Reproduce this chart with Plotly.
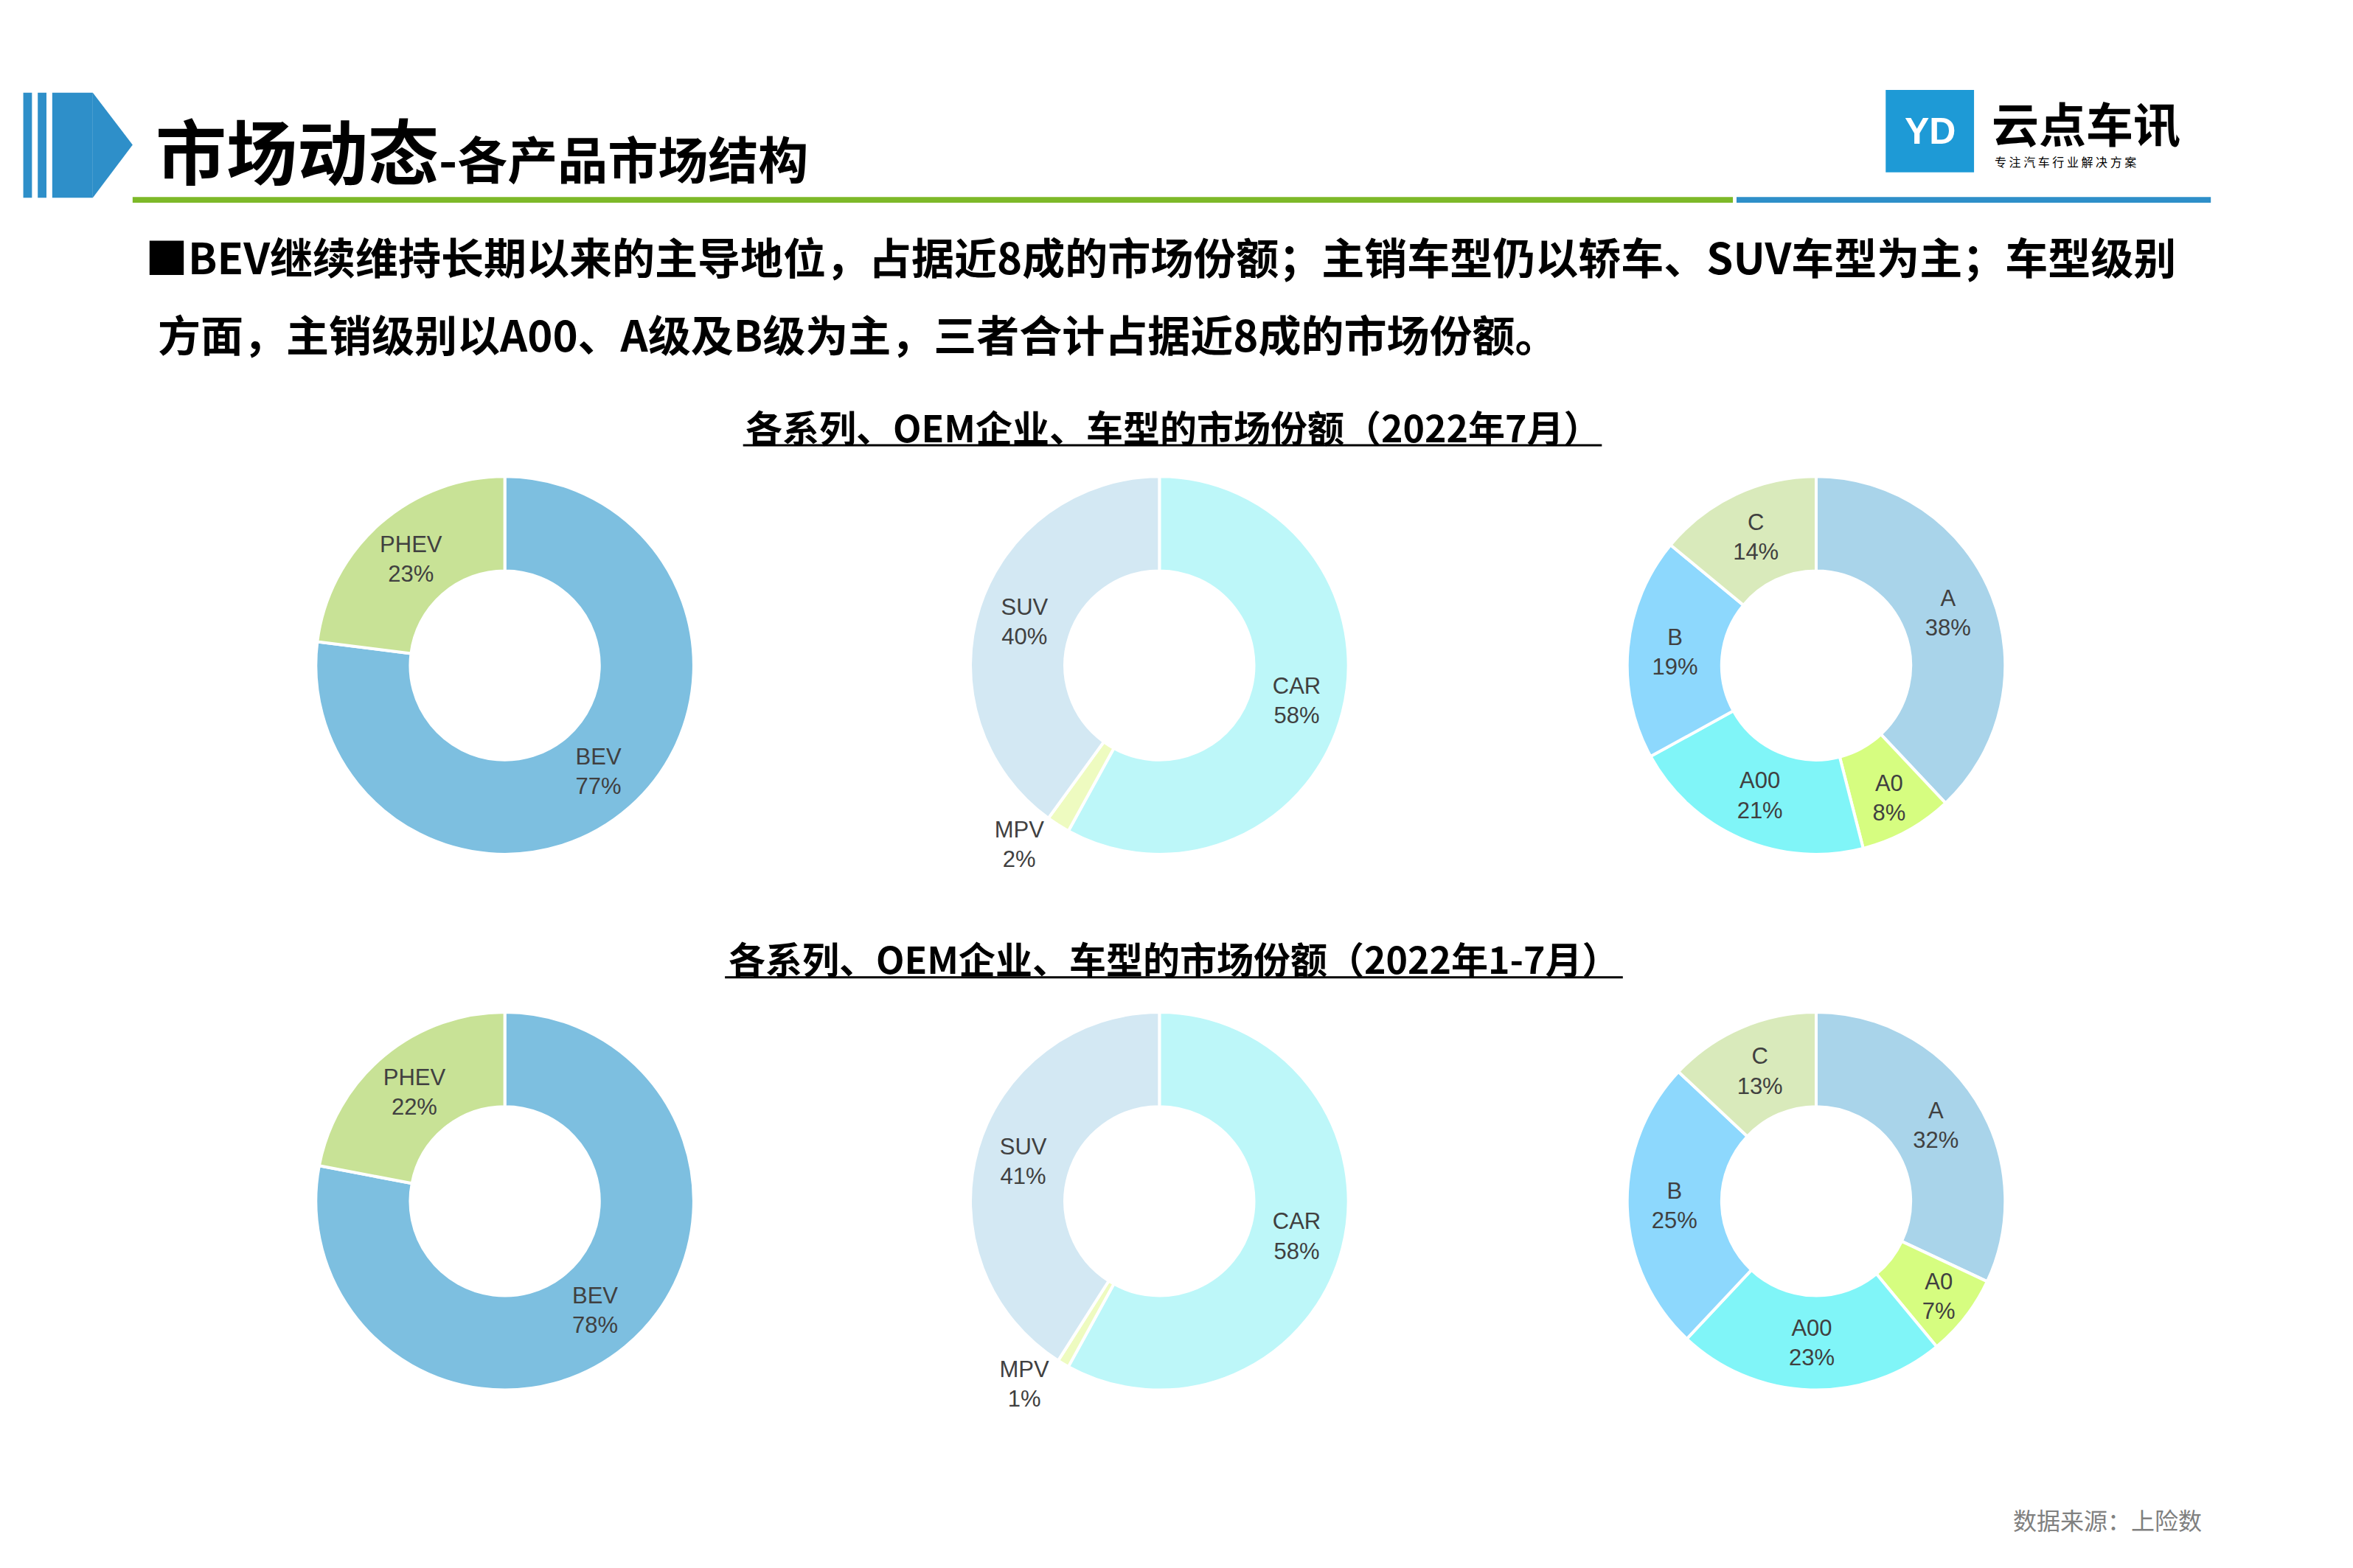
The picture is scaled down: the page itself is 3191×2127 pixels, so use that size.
import plotly.graph_objects as go

W, H = 3191, 2127
S = 0.982  # reference coordinates were read at a slightly larger scale

# data
fuel_labels = ["BEV", "PHEV"]
fuel_jul = [77, 23]
fuel_ytd = [78, 22]
body_labels = ["CAR", "MPV", "SUV"]
body_jul = [58, 2, 40]
body_ytd = [58, 1, 41]
class_labels = ["A", "A0", "A00", "B", "C"]
class_jul = [38, 8, 21, 19, 14]
class_ytd = [32, 7, 23, 25, 13]

fuel_colors = ["#7DBFE0", "#C8E296"]
body_colors = ["#BDF7F9", "#EEFBC0", "#D3E8F3"]
class_colors = ["#A9D4EA", "#D6FD80", "#80F5F8", "#8DD8FD", "#D9EABB"]

CJK = "Noto Sans CJK SC"
LAT = "Liberation Sans"


def px_x(x):
    return x * S / W


def px_y(y):
    return 1 - y * S / H


fig = go.Figure()

R = 261
rows = [(911, fuel_jul, body_jul, class_jul), (1651, fuel_ytd, body_ytd, class_ytd)]
cols = [689, 1593, 2500]
for cy, f, b, c in rows:
    for cx, (labels, vals, cols_) in zip(cols, [(fuel_labels, f, fuel_colors),
                                               (body_labels, b, body_colors),
                                               (class_labels, c, class_colors)]):
        pos = ["outside" if v < 5 else "inside" for v in vals]
        fig.add_trace(go.Pie(
            labels=labels, values=vals, hole=0.5, sort=False, direction="clockwise",
            rotation=0, marker=dict(colors=cols_, line=dict(color="white", width=4)),
            text=[f"{l}<br>{v}%" for l, v in zip(labels, vals)],
            textinfo="text", textposition=pos, insidetextorientation="horizontal",
            textfont=dict(family=LAT, size=31, color="#404040"),
            domain=dict(x=[px_x(cx - R), px_x(cx + R)], y=[px_y(cy + R), px_y(cy - R)]),
            showlegend=False,
        ))

shapes = []
# left header marker
for x0, x1 in [(24, 36), (44, 56), (64, 120)]:
    shapes.append(dict(type="rect", xref="paper", yref="paper", x0=px_x(x0), x1=px_x(x1),
                       y0=px_y(265), y1=px_y(120), fillcolor="#2E8FC9", line_width=0))
shapes.append(dict(type="path", xref="paper", yref="paper",
                   path=f"M {px_x(120)} {px_y(120)} L {px_x(175)} {px_y(192)} L {px_x(120)} {px_y(265)} Z",
                   fillcolor="#2E8FC9", line_width=0))
# header rules
shapes.append(dict(type="rect", xref="paper", yref="paper", x0=px_x(175), x1=px_x(2385),
                   y0=px_y(272), y1=px_y(264), fillcolor="#7DB928", line_width=0))
shapes.append(dict(type="rect", xref="paper", yref="paper", x0=px_x(2390), x1=px_x(3045),
                   y0=px_y(272), y1=px_y(264), fillcolor="#2E8FC9", line_width=0))
# logo box
shapes.append(dict(type="rect", xref="paper", yref="paper", x0=px_x(2596), x1=px_x(2718),
                   y0=px_y(230), y1=px_y(116), fillcolor="#1E9AD6", line_width=0))
# subtitle underlines
for x0, x1, y in [(1018, 2204, 607), (993, 2233, 1342)]:
    shapes.append(dict(type="line", xref="paper", yref="paper", x0=px_x(x0), x1=px_x(x1),
                       y0=px_y(y), y1=px_y(y), line=dict(color="black", width=3)))

ann = []


def text(x, y, s, size, color="black", family=CJK, xanchor="left", bold=False):
    ann.append(dict(x=px_x(x), y=px_y(y), xref="paper", yref="paper", text=f"<b>{s}</b>" if bold else s,
                    showarrow=False, xanchor=xanchor, yanchor="middle",
                    font=dict(size=size, color=color, family=family)))


text(205, 197, "市场动态<span style='font-size:68px'>-各产品市场结构</span>", 96, bold=True)
text(2657, 173, "YD", 50, color="white", family=LAT, xanchor="center", bold=True)
text(2740, 160, "云点车讯", 64, bold=True)
text(2744, 215, "专 注 汽 车 行 业 解 决 方 案", 16)
text(190, 345, "■BEV继续维持长期以来的主导地位，占据近8成的市场份额；主销车型仍以轿车、SUV车型为主；车型级别", 58, bold=True)
text(208, 452, "方面，主销级别以A00、A级及B级为主，三者合计占据近8成的市场份额。", 58, bold=True)
text(1611, 580, "各系列、OEM企业、车型的市场份额（2022年7月）", 50, xanchor="center", bold=True)
text(1613, 1315, "各系列、OEM企业、车型的市场份额（2022年1-7月）", 50, xanchor="center", bold=True)
text(3035, 2091, "数据来源：上险数", 32, color="#808080", xanchor="right")

fig.update_layout(width=W, height=H, margin=dict(l=0, r=0, t=0, b=0),
                  paper_bgcolor="white", plot_bgcolor="white",
                  shapes=shapes, annotations=ann)

fig.write_html("out.html")
